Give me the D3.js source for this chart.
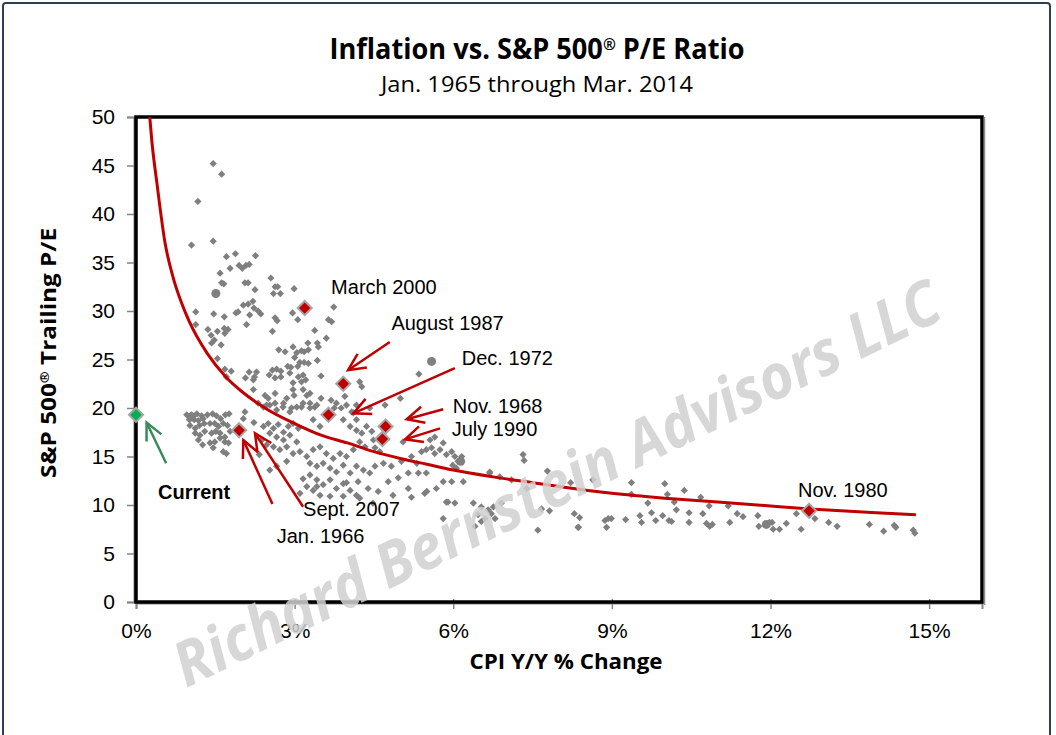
<!DOCTYPE html>
<html>
<head>
<meta charset="utf-8">
<script src="https://cdn.jsdelivr.net/npm/d3@7"></script>
<style>
  body { margin: 0; background: #fff; }
  svg { display: block; font-family: "Liberation Sans", Arial, sans-serif; }
</style>
</head>
<body>
<svg id="chart" width="1056" height="735"></svg>
<script>
// ticks
var yTicks = [0, 5, 10, 15, 20, 25, 30, 35, 40, 45, 50];
var xTicks = [0, 3, 6, 9, 12, 15];

// monthly points [CPI y/y %, trailing P/E]
var scatterHigh = [
  [1.46,45.2],[1.62,44.1],[1.17,41.3],[1.05,36.8],[1.46,37.2],[1.71,35.6],[1.88,35.9],[2.26,35.7],
  [1.78,34.4],[1.95,34.7],[2.01,34.4],[2.08,34.7],[2.14,34.8],[1.59,33.9],[2.55,33.4],[1.66,32.8],
  [1.62,32.9],[2.06,32.9],[2.12,32.9],[2.25,32.2],[2.63,32.5],[2.68,32.5],[2.60,31.8],[2.73,31.8],
  [2.99,32.3],[3.74,30.4],[1.13,29.9],[1.13,28.6],[1.47,29.7],[1.67,29.4],[1.89,29.8],[1.93,29.9],
  [2.03,30.6],[2.12,30.7],[2.21,31.0],[2.09,28.6],[2.15,29.6],[2.23,30.3],[2.31,30.0],[2.36,29.7],
  [2.63,29.3],[2.67,29.0],[2.96,29.8],[3.06,29.1],[3.64,29.1],[3.70,28.9],[2.58,27.9],[1.36,28.1],
  [1.54,27.9],[1.67,28.2],[1.74,28.1],[1.68,27.7],[1.42,27.5],[1.48,27.0],[1.43,26.7],[1.61,26.5],
  [1.54,25.1],[1.68,24.0],[1.80,23.8],[1.71,23.2],[3.38,28.0],[3.60,27.2],[2.70,26.0],[2.82,25.8],
  [2.97,26.3],[3.04,25.7],[3.13,25.9],[3.18,25.8],[3.26,26.0],[3.25,26.7],[3.43,26.7],[3.45,26.3],
  [3.43,24.9],[3.10,24.7],[3.18,24.7],[3.26,24.6],[3.00,25.2],[2.87,24.3],[2.93,24.2],[3.06,24.3],
  [2.58,23.9],[2.66,24.0],[2.74,23.8],[2.14,23.7],[2.28,23.7],[2.24,23.2],[2.07,23.1],[2.22,22.9],
  [2.52,23.4],[2.63,23.1],[2.74,23.2],[2.91,23.6],[3.07,23.2],[3.16,23.4],[2.97,22.6],[3.13,22.7],
  [3.21,22.9],[3.50,23.3],[2.22,21.9],[2.97,21.9],[2.99,21.3],[3.16,21.9],[3.23,21.3],[3.29,21.5],
  [2.63,21.5],[2.44,21.3],[2.50,21.0],[2.85,21.0],[3.95,21.2],[3.50,21.0],[3.69,20.8],[2.31,20.5],
  [2.47,20.3],[2.63,20.5],[2.78,20.1],[2.94,20.0],[3.13,20.1],[3.29,20.5],[3.38,20.1],[3.75,20.0],
  [3.88,20.0],[5.35,23.5],[4.27,22.2],[5.00,21.0],[4.71,20.3],[4.42,20.0],[4.17,20.3],[4.23,22.7],
  [4.08,19.6]
];

var scatterCore = [
  [0.96,19.3],[1.05,19.3],[1.15,19.4],[1.24,19.2],[1.01,18.8],[1.10,18.8],[1.18,18.7],[1.27,18.9],
  [1.35,19.3],[1.45,19.4],[1.52,19.2],[1.60,18.9],[1.69,19.3],[1.76,19.4],[1.02,18.2],[1.12,17.9],
  [1.20,18.2],[1.29,18.4],[1.40,18.4],[1.49,18.4],[1.56,18.1],[1.65,18.4],[1.73,18.2],[1.12,17.4],
  [1.21,17.2],[1.30,17.6],[1.43,17.4],[1.51,17.6],[1.59,17.4],[1.68,17.0],[1.78,17.6],[1.18,16.7],
  [1.40,16.4],[1.49,16.5],[1.59,16.9],[1.68,16.5],[1.75,16.4],[1.26,16.2],[1.46,15.9],[1.65,15.5],
  [1.71,15.3],[2.06,19.6],[2.03,18.9],[2.23,18.5],[2.33,15.2],
  [2.41,18.1],[2.50,18.4],[2.60,17.9],[2.69,18.3],[2.79,17.5],[2.88,18.1],[2.97,18.4],[3.07,17.9],
  [2.53,17.4],[2.66,17.0],[2.79,16.7],[2.91,17.2],[3.04,16.5],[2.38,16.7],[2.47,16.2],[2.60,16.0],
  [2.72,15.7],[2.85,16.0],[2.97,15.3],[3.10,15.5],[3.23,15.0],[3.35,15.7],[3.48,16.0],[3.60,15.3],
  [3.73,14.8],[3.86,15.3],[3.98,15.0],[4.11,15.7],[3.29,14.3],[3.42,14.0],[3.54,14.3],[3.67,13.8],
  [3.79,13.4],[3.92,14.1],[4.05,13.3],[4.17,14.0],[2.53,13.6],[2.66,14.0],[2.85,14.5],[3.16,12.7],
  [3.29,13.1],[3.42,12.6],[3.54,12.1],[3.67,12.6],[3.79,11.7],[3.92,12.2],[4.05,11.5],[4.17,11.0],
  [3.35,11.5],[3.48,11.0],[3.67,10.9],[3.92,10.9],[3.23,11.9],[3.10,11.2],[2.41,20.1],[2.53,20.3],
  [2.66,19.8],[2.79,20.5],[2.91,19.6],[3.04,20.1],[3.16,20.5],[3.29,20.0],[3.42,20.3],[3.79,20.5],
  [3.98,20.3],[4.11,19.5],[3.92,18.8],[4.05,18.1],[4.17,18.8],[3.35,18.8],[3.48,18.1],[3.42,11.9],
  [4.23,10.7],[4.48,10.2],[4.86,11.0],[3.98,12.3]
];

var scatterMid = [
  [4.17,17.7],[4.27,17.4],[4.36,18.1],[4.46,17.6],[4.49,16.7],[4.52,15.9],[4.61,15.5],[4.33,16.0],
  [4.23,16.5],[5.05,16.5],[5.40,15.5],[5.49,15.7],[5.59,15.9],[5.65,15.3],[5.75,15.7],[5.56,16.7],
  [5.65,17.0],[5.81,16.4],[5.87,15.2],[5.97,15.5],[6.03,15.0],[6.09,14.5],[5.99,14.1],[6.16,15.0],
  [6.06,13.8],[5.21,15.0],[5.31,14.3],[5.02,14.5],[4.83,14.0],[4.68,14.3],[4.52,14.0],[4.42,13.3],
  [4.30,13.6],[4.96,12.8],[5.15,13.3],[5.34,13.3],[5.49,13.3],[5.68,11.7],[5.81,12.4],[5.97,12.4],
  [6.19,12.4],[5.46,11.2],[5.15,11.7],[4.77,12.4],[4.58,11.4],[4.39,11.7],[4.20,12.4],[6.69,13.3],
  [6.88,12.9],[7.10,12.6],[7.32,15.2],[7.34,14.6],[7.39,11.7],[5.87,10.3],[6.03,10.2],[6.38,10.2],
  [6.53,9.8],[6.66,9.5],[6.76,9.8],[6.91,10.2],[6.47,9.0],[6.60,8.6],[6.72,9.1],[6.53,8.3],
  [6.41,7.8],[6.79,8.6],[5.81,8.6],[5.90,10.3],[5.21,10.8],[5.50,11.4],[6.69,13.4]
];

var scatterTail = [
  [7.78,13.5],[8.22,12.3],[8.64,12.6],[7.67,9.6],[7.82,9.4],[7.60,7.4],[8.37,7.7],[8.29,9.1],
  [8.87,8.4],[8.93,8.6],[8.99,8.6],[8.90,7.7],[9.26,8.5],[9.37,12.3],[9.37,11.1],[9.53,8.9],
  [9.56,8.2],[9.68,10.2],[9.75,9.2],[9.83,8.4],[9.96,8.9],[10.00,12.2],[10.05,11.1],[10.08,8.4],
  [10.13,8.3],[10.18,10.3],[10.22,9.5],[10.37,11.5],[10.46,9.2],[10.46,8.2],[10.68,10.8],[10.72,9.1],
  [10.79,8.1],[10.85,7.8],[10.90,8.0],[10.84,9.9],[11.20,9.9],[11.23,8.2],[11.37,9.1],[11.48,8.8],
  [11.76,8.9],[11.78,7.8],[11.98,8.2],[12.03,8.2],[12.05,7.5],[12.17,7.5],[12.30,8.1],[12.49,9.1],
  [12.58,7.5],[12.84,8.6],[13.10,8.2],[13.26,7.8],[13.87,8.0],[14.14,7.3],[14.34,7.9],[14.37,7.7],
  [14.70,7.4],[14.73,7.1],[8.39,8.7],[8.36,7.7]
];

// a few points drawn as round dots in the original
var dotCpi = [1.51, 5.59, 6.14, 1.05, 11.92];
var dotPe = [31.8, 24.8, 14.5, 19.1, 8.0];

// red fitted curve
var curveCpi = [0.26, 0.3, 0.4, 0.55, 0.7, 0.85, 1.0, 1.35, 1.7, 2.0, 2.5, 3.0, 3.5, 4.0, 4.5,
  5.0, 5.5, 6.0, 6.75, 7.5, 8.0, 9.0, 10.0, 11.0, 12.0, 12.75, 13.5, 14.0, 14.75];
var curvePe = [50, 47.5, 43, 37, 33.5, 31, 29, 25.6, 23.2, 21.7, 19.8, 18.4, 17.2, 16.4, 15.5,
  14.8, 14.2, 13.6, 12.9, 12.3, 11.9, 11.2, 10.7, 10.3, 9.9, 9.6, 9.35, 9.2, 9.0];

// highlighted months
var markerCpi = [3.19, 3.92, 3.64, 4.72, 4.66, 1.95, 12.73];
var markerPe = [30.3, 22.5, 19.3, 18.1, 16.8, 17.7, 9.4];

var labelText = ["March 2000", "August 1987", "Dec. 1972", "Nov. 1968", "July 1990", "Sept. 2007", "Jan. 1966", "Nov. 1980"];
var labelCpi = [3.69, 4.83, 6.16, 5.99, 5.97, 3.16, 2.66, 12.52];
var labelPe = [31.75, 28.0, 24.4, 19.5, 17.1, 8.9, 6.1, 10.8];

var arrowFromCpi = [4.80, 6.03, 5.81, 5.75, 3.16, 2.58];
var arrowFromPe = [26.8, 24.1, 19.87, 17.9, 9.82, 10.1];
var arrowToCpi = [4.01, 4.11, 5.12, 5.09, 2.25, 2.03];
var arrowToPe = [23.9, 19.45, 18.84, 16.77, 17.4, 16.7];

var currentCpi = 0.0, currentPe = 19.3;
var currentArrow = [[0.57, 14.3], [0.20, 18.5]];

var svg = d3.select("#chart");

var x = d3.scaleLinear().domain([0, 16]).range([136, 982]);
var y = d3.scaleLinear().domain([0, 50]).range([602, 117]);

var headFont = "'Open Sans', sans-serif";

// outer frame
svg.append("rect")
  .attr("x", 3).attr("y", 3).attr("width", 1047).attr("height", 745)
  .attr("rx", 3)
  .attr("fill", "#fff")
  .attr("stroke", "#2c3e57").attr("stroke-width", 2);

// titles
var title = svg.append("text")
  .attr("x", 537).attr("y", 59)
  .attr("text-anchor", "middle")
  .attr("textLength", 415).attr("lengthAdjust", "spacingAndGlyphs")
  .style("font-family", headFont)
  .style("font-weight", "bold").style("font-size", "28px");
title.append("tspan").text("Inflation vs. S&P 500");
title.append("tspan").attr("dy", -9).style("font-size", "16px").text("®");
title.append("tspan").attr("dy", 9).text(" P/E Ratio");

svg.append("text")
  .attr("x", 537).attr("y", 92)
  .attr("text-anchor", "middle")
  .attr("textLength", 312).attr("lengthAdjust", "spacingAndGlyphs")
  .style("font-family", headFont)
  .style("font-size", "22px")
  .text("Jan. 1965 through Mar. 2014");

// axis titles
var yTitle = svg.append("text")
  .attr("transform", "translate(56,353) rotate(-90)")
  .attr("text-anchor", "middle")
  .attr("textLength", 250).attr("lengthAdjust", "spacingAndGlyphs")
  .style("font-family", headFont)
  .style("font-weight", "bold").style("font-size", "22px");
yTitle.append("tspan").text("S&P 500");
yTitle.append("tspan").attr("dy", -7).style("font-size", "13px").text("®");
yTitle.append("tspan").attr("dy", 7).text(" Trailing P/E");

svg.append("text")
  .attr("x", 566).attr("y", 669)
  .attr("text-anchor", "middle")
  .attr("textLength", 193).attr("lengthAdjust", "spacingAndGlyphs")
  .style("font-family", headFont)
  .style("font-weight", "bold").style("font-size", "22px")
  .text("CPI Y/Y % Change");

// axes
var yAxis = svg.append("g")
  .attr("transform", "translate(134,0)")
  .call(d3.axisLeft(y).tickValues(yTicks).tickSize(7).tickPadding(12));
var xAxis = svg.append("g")
  .attr("transform", "translate(0,603)")
  .call(d3.axisBottom(x).tickValues(xTicks).tickSize(6).tickPadding(14)
    .tickFormat(function(d) { return d + "%"; }));

[yAxis, xAxis].forEach(function(a) {
  a.selectAll("text").style("font-size", "21px").attr("fill", "#000")
    .style("font-family", "'Liberation Sans', Arial, sans-serif");
  a.selectAll("line").attr("stroke", "#868686").attr("stroke-width", 1.5);
  a.select(".domain").attr("stroke", "#868686").attr("stroke-width", 2);
});
xAxis.selectAll(".tick line").attr("y1", -4);

// plot frame
svg.append("rect")
  .attr("x", x(0)).attr("y", y(50))
  .attr("width", x(16) - x(0)).attr("height", y(0) - y(50))
  .attr("fill", "none").attr("stroke", "#000").attr("stroke-width", 3.5);
svg.append("line")
  .attr("x1", x(16) + 2.5).attr("x2", x(16) + 2.5)
  .attr("y1", y(50)).attr("y2", y(0) + 3)
  .attr("stroke", "#8c8c8c").attr("stroke-width", 1.5);

// scatter
var diamond = d3.symbol().type(d3.symbolSquare).size(26);
var allPoints = scatterHigh.concat(scatterCore, scatterMid, scatterTail);
svg.append("g").selectAll("path")
  .data(allPoints)
  .join("path")
  .attr("d", diamond)
  .attr("transform", function(d) { return "translate(" + x(d[0]) + "," + y(d[1]) + ") rotate(45)"; })
  .attr("fill", "#7f7f7f");

svg.append("g").selectAll("circle")
  .data(dotCpi)
  .join("circle")
  .attr("cx", function(d) { return x(d); })
  .attr("cy", function(d, i) { return y(dotPe[i]); })
  .attr("r", 4.5)
  .attr("fill", "#7f7f7f");

// fitted curve
var line = d3.line()
  .x(function(d) { return x(d); })
  .y(function(d, i) { return y(curvePe[i]); })
  .curve(d3.curveMonotoneX);
svg.append("path")
  .datum(curveCpi)
  .attr("d", line)
  .attr("fill", "none")
  .attr("stroke", "#c00000")
  .attr("stroke-width", 3);

// highlighted months
var bigDiamond = d3.symbol().type(d3.symbolSquare).size(100);
svg.append("g").selectAll("path")
  .data(markerCpi)
  .join("path")
  .attr("d", bigDiamond)
  .attr("transform", function(d, i) { return "translate(" + x(d) + "," + y(markerPe[i]) + ") rotate(45)"; })
  .attr("fill", "#c00000")
  .attr("stroke", "#a6a6a6").attr("stroke-width", 2);

svg.append("path")
  .attr("d", bigDiamond)
  .attr("transform", "translate(" + x(currentCpi) + "," + y(currentPe) + ") rotate(45)")
  .attr("fill", "#00b050")
  .attr("stroke", "#a6a6a6").attr("stroke-width", 2);

// arrows
function drawArrow(x1, y1, x2, y2, color) {
  var a = Math.atan2(y1 - y2, x1 - x2), len = 19, spread = 0.45;
  var w1 = [x2 + len * Math.cos(a - spread), y2 + len * Math.sin(a - spread)];
  var w2 = [x2 + len * Math.cos(a + spread), y2 + len * Math.sin(a + spread)];
  var g = svg.append("g").attr("stroke", color).attr("stroke-width", 2.5).attr("fill", "none");
  g.append("line").attr("x1", x1).attr("y1", y1).attr("x2", x2).attr("y2", y2);
  g.append("path").attr("d", "M" + w1 + "L" + [x2, y2] + "L" + w2);
}
arrowFromCpi.forEach(function(d, i) {
  drawArrow(x(d), y(arrowFromPe[i]), x(arrowToCpi[i]), y(arrowToPe[i]), "#c00000");
});
drawArrow(x(currentArrow[0][0]), y(currentArrow[0][1]), x(currentArrow[1][0]), y(currentArrow[1][1]), "#3b8a5e");

// labels
svg.append("g").selectAll("text")
  .data(labelText)
  .join("text")
  .attr("x", function(d, i) { return x(labelCpi[i]); })
  .attr("y", function(d, i) { return y(labelPe[i]); })
  .style("font-size", "20px")
  .text(function(d) { return d; });

svg.append("text")
  .attr("x", 158).attr("y", 499)
  .style("font-size", "20px").style("font-weight", "bold")
  .text("Current");

// watermark
svg.append("text")
  .attr("transform", "translate(566,503) rotate(-26)")
  .attr("text-anchor", "middle")
  .attr("textLength", 845).attr("lengthAdjust", "spacingAndGlyphs")
  .style("font-family", headFont)
  .style("font-weight", "bold").style("font-style", "italic")
  .style("font-size", "62px")
  .attr("fill", "#d0d0d0").attr("fill-opacity", 0.85)
  .text("Richard Bernstein Advisors LLC");
</script>
</body>
</html>
